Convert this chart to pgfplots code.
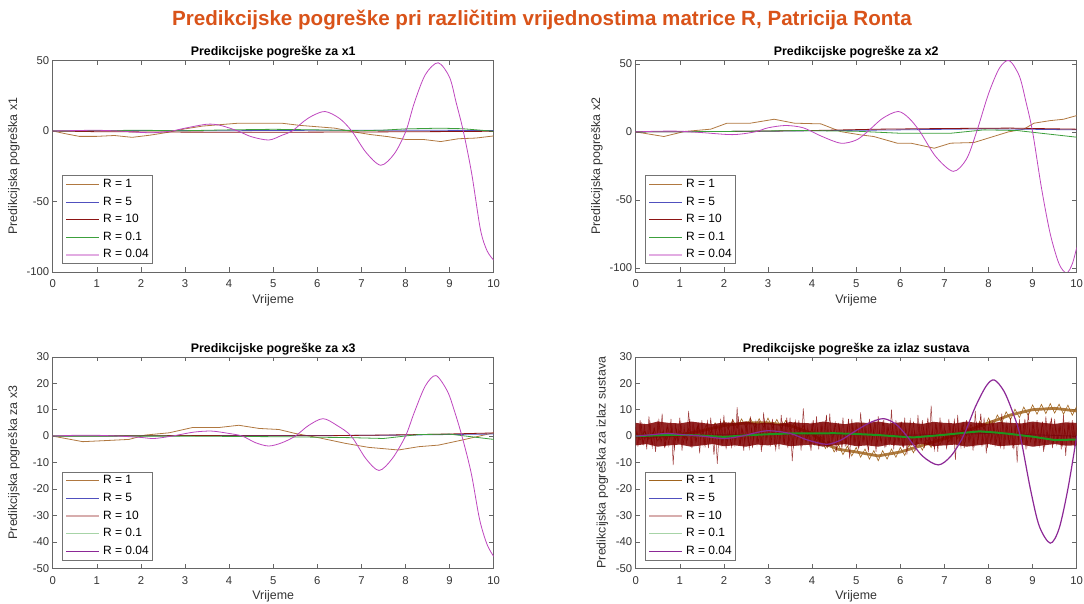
\documentclass[border=0pt]{standalone}
\usepackage{pgfplots}
\pgfplotsset{compat=1.18}
\usepackage{fontspec}
\setmainfont{Liberation Sans}

\definecolor{cbrown}{RGB}{176,120,64}
\definecolor{cblue}{RGB}{80,80,190}
\definecolor{cred}{RGB}{140,20,20}
\definecolor{cgreen}{RGB}{60,160,60}
\definecolor{cpurple}{RGB}{190,70,190}
\definecolor{cbrown4}{RGB}{160,100,30}
\definecolor{cred4}{RGB}{128,0,0}
\definecolor{cgreen4}{RGB}{30,150,30}
\definecolor{cpurple4}{RGB}{140,40,150}
\definecolor{ctitle}{RGB}{217,83,25}

\pgfplotsset{
  panel/.style={
    scale only axis, width=441pt, height=211.5pt,
    xmin=0, xmax=10, xtick={0,...,10},
    axis line style={draw=black!60, line width=0.5pt},
    tick style={draw=black!60, line width=0.5pt},
    major tick length=4.5pt,
    tick align=inside, xtick pos=both, ytick pos=both,
    xticklabel pos=lower, yticklabel pos=left,
    ticklabel style={font=\fontsize{11.3}{13}\selectfont, text=black!80},
    xticklabel style={yshift=-4.5pt},
    /pgf/number format/assume math mode=true,
    xlabel={Vrijeme},
    every axis x label/.style={at={(axis description cs:0.5,-0.133)}, anchor=center,
      font=\fontsize{12.4}{14}\selectfont, text=black!80},
    title style={font=\bfseries\fontsize{12.4}{14}\selectfont, yshift=-7.5pt},
    legend style={at={(0,0)}, anchor=south west, xshift=9pt, yshift=8pt,
      draw=black!55, line width=0.5pt, font=\fontsize{12}{14}\selectfont,
      inner xsep=3.5pt, inner ysep=2.8pt, row sep=5.6pt,
      nodes={inner sep=0pt, text height=9pt, text depth=3pt},
      /tikz/every odd column/.append style={column sep=3pt},
      cells={anchor=west}},
    legend image code/.code={\draw[#1] (0pt,0pt) -- (33pt,0pt);},
    every axis plot/.append style={line width=0.8pt},
  },
  ylab/.style={every axis y label/.style={at={(axis description cs:#1,0.5)}, rotate=90, anchor=center,
      font=\fontsize{12.4}{14}\selectfont, text=black!80}},
}

\begin{document}
\begin{tikzpicture}
\path[use as bounding box] (0,0) rectangle (1084pt,604pt);
\node[font=\bfseries\fontsize{20.6}{24}\selectfont, text=ctitle] at (542pt,584pt)
  {Predikcijske pogreške pri različitim vrijednostima matrice R, Patricija Ronta};

% x1
\begin{axis}[panel, at={(52.7pt,332pt)}, anchor=south west,
  ymin=-100, ymax=50, ytick={-100,-50,0,50}, ylab=-0.088,
  title={Predikcijske pogreške za x1}, ylabel={Predikcijska pogreška x1}]
\addplot[cbrown, forget plot] coordinates {(0,0)(0.3,-2)(0.6,-3.8)(1.0,-3.8)(1.4,-3.2)(1.8,-4.5)(2.2,-3)(2.6,-1)(3.0,1.5)(3.4,3.5)(3.8,4.5)(4.2,5.5)(4.7,5.5)(5.2,5.5)(5.6,4)(6.0,3)(6.4,2)(6.8,-0.5)(7.2,-2.5)(7.6,-4)(8.0,-6)(8.4,-6)(8.8,-7.5)(9.2,-5.5)(9.6,-5)(10,-3.5)};
\addplot[cblue, forget plot] coordinates {(0,0)(2,0.3)(4,0.2)(6,0.5)(8,0.6)(10,0.3)};
\addplot[cred, forget plot] coordinates {(0,0)(1,-0.5)(3,-0.8)(5,-0.9)(7,-0.7)(9,-0.4)(10,-0.2)};
\addplot[cgreen, forget plot] coordinates {(0,0)(1,0.3)(2,0.5)(3,0.2)(4,0.8)(5,1.2)(6,0.8)(7,0.2)(7.5,0.6)(8,1.5)(8.8,2)(9.3,1.6)(10,-0.2)};
\addplot[cpurple, smooth, forget plot] coordinates {(0,0)(0.5,0.3)(1.0,0.5)(1.5,0)(2.0,-1)(2.3,-1.2)(2.7,0)(3.0,2)(3.5,4.8)(3.8,4)(4.2,0)(4.5,-4)(4.9,-6.4)(5.2,-3)(5.43,0)(5.7,7)(5.9,11)(6.18,13.8)(6.5,9)(6.78,0)(7.1,-15)(7.44,-24.3)(7.75,-16)(8.01,0)(8.2,20)(8.45,40)(8.74,48.4)(9.0,38)(9.15,20)(9.31,0)(9.5,-30)(9.7,-70)(9.85,-85)(10,-91.6)};
\addlegendimage{cbrown}
\addlegendimage{cblue}
\addlegendimage{cred}
\addlegendimage{cgreen}
\addlegendimage{cpurple!45, line width=1.6pt}
\legend{R = 1, R = 5, R = 10, R = 0.1, R = 0.04}
\end{axis}

% x2
\begin{axis}[panel, at={(635.7pt,332pt)}, anchor=south west,
  ymin=-103, ymax=52.5, ytick={-100,-50,0,50}, ylab=-0.088,
  title={Predikcijske pogreške za x2}, ylabel={Predikcijska pogreška x2}]
\addplot[cbrown, forget plot] coordinates {(0,0)(0.64,-3.4)(1.1,0.3)(1.7,2)(2.07,6.4)(2.6,6.4)(3.14,9.3)(3.6,6.4)(4.2,5.9)(4.65,0.2)(5.1,-2.2)(5.4,-3.4)(5.93,-8.3)(6.24,-8.3)(6.6,-10.8)(6.77,-12)(7.14,-8.3)(7.67,-7.8)(7.98,-4.7)(8.45,0)(8.8,2)(9.03,6.4)(9.4,8.3)(9.7,9.3)(10,12)};
\addplot[cblue, forget plot] coordinates {(0,0)(3,0.5)(6,1.5)(8,2.3)(10,1.5)};
\addplot[cred, forget plot] coordinates {(0,0)(2,0.3)(4,1)(5.5,2)(7,2.5)(8.5,2.8)(10,2)};
\addplot[cgreen, forget plot] coordinates {(0,0)(2,0.3)(3.74,1)(5,0.5)(6,-1)(7.14,-1)(7.9,1.5)(8.65,1)(9.2,-1)(10,-3.9)};
\addplot[cpurple, smooth, forget plot] coordinates {(0,0)(0.5,0.5)(1,0.5)(1.5,-0.5)(2.2,-2)(2.7,0)(3.0,3)(3.4,4.7)(3.8,3)(4.2,-3)(4.65,-8.3)(5.0,-6)(5.25,0)(5.6,10)(5.95,15)(6.2,10)(6.45,0)(6.8,-18)(7.2,-29)(7.5,-20)(7.73,0)(8.0,28)(8.25,47)(8.47,52.4)(8.7,41)(8.85,22)(9.0,0)(9.2,-41)(9.4,-75)(9.6,-97)(9.77,-103.7)(9.9,-97)(10,-85)};
\addlegendimage{cbrown}
\addlegendimage{cblue}
\addlegendimage{cred}
\addlegendimage{cgreen}
\addlegendimage{cpurple!45, line width=1.6pt}
\legend{R = 1, R = 5, R = 10, R = 0.1, R = 0.04}
\end{axis}

% x3
\begin{axis}[panel, at={(52.7pt,35.7pt)}, anchor=south west,
  ymin=-50, ymax=30, ytick={-50,-40,...,30}, ylab=-0.088,
  title={Predikcijske pogreške za x3}, ylabel={Predikcijska pogreška za x3}]
\addplot[cbrown, forget plot] coordinates {(0,0)(0.68,-2.1)(1.13,-1.75)(1.73,-1.25)(2.1,0.4)(2.64,1.25)(3.17,3.25)(3.77,3.25)(4.22,4.1)(4.68,2.9)(5.13,2.5)(5.5,1)(6.03,-0.6)(6.64,-2.75)(7.16,-4.25)(7.84,-5.25)(8.3,-4)(8.75,-3.4)(9.28,-1.5)(10,1.25)};
\addplot[cblue, forget plot] coordinates {(0,0)(3,0.2)(6,0.2)(8,0.4)(10,0.8)};
\addplot[cred, forget plot] coordinates {(0,0)(3,0.2)(6,0.1)(8,0.5)(9,0.8)(10,1.2)};
\addplot[cgreen, forget plot] coordinates {(0,0)(3,0)(5.3,-0.25)(6.8,-0.6)(7.5,-0.9)(8.3,0.6)(9,0.75)(10,-1.25)};
\addplot[cpurple, smooth, forget plot] coordinates {(0,0)(0.5,0.3)(1.0,0.3)(1.5,0)(2.0,-0.5)(2.3,-0.9)(2.7,0)(3.2,1.5)(3.6,1.9)(4.0,1)(4.3,0)(4.6,-2.5)(4.9,-3.75)(5.2,-2.5)(5.5,0)(5.8,4)(6.13,6.6)(6.45,4)(6.77,0)(7.1,-8.5)(7.4,-13)(7.7,-8.5)(8.0,0)(8.2,9)(8.45,19)(8.69,22.9)(8.95,17)(9.1,10)(9.28,0)(9.49,-14)(9.68,-31.5)(9.85,-41)(10,-45.5)};
\addlegendimage{cbrown}
\addlegendimage{cblue}
\addlegendimage{cred!35, line width=1.6pt}
\addlegendimage{cgreen!45, line width=1.6pt}
\addlegendimage{cpurple4}
\legend{R = 1, R = 5, R = 10, R = 0.1, R = 0.04}
\end{axis}

% izlaz sustava
\begin{axis}[panel, at={(635.7pt,35.7pt)}, anchor=south west,
  ymin=-50, ymax=30, ytick={-50,-40,...,30}, ylab=-0.0757,
  title={Predikcijske pogreške za izlaz sustava}, ylabel={Predikcijska pogreška za izlaz sustava}]
% R = 1: trend drawn thick, then its noise
\addplot[cbrown4, line width=2.8pt, opacity=0.85, forget plot] coordinates {(0,0)(0.5,0)(1,0.5)(1.5,2)(2,4)(2.5,5)(3,5)(3.5,4)(4,1)(4.3,-3)(4.6,-5)(5,-6)(5.5,-7.5)(6,-6)(6.5,-3.5)(7,-1)(7.5,2)(8,5)(8.5,8)(9,10)(9.5,10.5)(10,9.5)};
\addplot[cbrown4, line width=0.6pt, forget plot] table[x expr=\coordindex*0.1, y index=0, header=false, row sep=\\] {
1.5\\ -1.5\\ 1.8\\ -1.2\\ 1.5\\ -1.8\\ 1.6\\ -1.3\\ 2\\ -1.4\\
2\\ -0.8\\ 2.8\\ -0.3\\ 3.5\\ 0.3\\ 4.2\\ 1.2\\ 5\\ 2\\
5.8\\ 2.6\\ 6.2\\ 3\\ 6.5\\ 3.3\\ 6.8\\ 3.2\\ 6.6\\ 3.4\\
6.8\\ 3.1\\ 6.3\\ 2.8\\ 5.9\\ 2.3\\ 5\\ 1.1\\ 4\\ -0.2\\
2.8\\ -2\\ 0\\ -4.7\\ -2\\ -6\\ -3.3\\ -7\\ -3.8\\ -7.5\\
-4.3\\ -8\\ -4.9\\ -8.7\\ -5.5\\ -9.3\\ -5.5\\ -8.7\\ -4.9\\ -8\\
-4.3\\ -7.3\\ -3.3\\ -6.3\\ -2.3\\ -5.3\\ -1.3\\ -4.3\\ -0.3\\ -3.3\\
0.7\\ -2.2\\ 2\\ -1\\ 3.2\\ 0.2\\ 4.4\\ 1.4\\ 5.6\\ 2.6\\
6.8\\ 3.8\\ 8\\ 5\\ 9.2\\ 6.2\\ 10.2\\ 7\\ 11\\ 7.8\\
11.8\\ 8.3\\ 12\\ 8.5\\ 12.3\\ 8.7\\ 12.1\\ 8.3\\ 11.7\\ 7.9\\
11.2\\
};
\addplot[cblue, forget plot] coordinates {(0,0)(2,0.5)(4,0.8)(6,0.3)(8,1)(10,0)};
% R = 10: dense core of the noise band, then the spikes
\addplot[fill=cred4, draw=none, fill opacity=0.85, forget plot] coordinates {
(0,5)(0.25,4.5)(0.5,5.5)(0.75,5)(1,4.8)(1.25,5.5)(1.5,5)(1.75,4.5)(2,5.2)(2.25,5)(2.5,5.5)(2.75,4.8)(3,5)(3.25,4.6)(3.5,5.3)(3.75,5)(4,4.8)(4.25,5.5)(4.5,5)(4.75,4.5)(5,5.2)(5.25,5)(5.5,5.5)(5.75,4.8)(6,5.2)(6.25,5)(6.5,4.6)(6.75,5.4)(7,5)(7.25,4.8)(7.5,5.5)(7.75,5)(8,4.7)(8.25,5.3)(8.5,5)(8.75,4.8)(9,5.5)(9.25,5)(9.5,4.6)(9.75,5.2)(10,5)
(10,-3.5)(9.75,-3.6)(9.5,-3)(9.25,-3.5)(9,-4)(8.75,-3.2)(8.5,-3.5)(8.25,-3.8)(8,-3)(7.75,-3.5)(7.5,-4)(7.25,-3.2)(7,-3.5)(6.75,-3.8)(6.5,-3)(6.25,-3.5)(6,-3.6)(5.75,-3.2)(5.5,-4)(5.25,-3.5)(5,-3.8)(4.75,-3)(4.5,-3.5)(4.25,-4)(4,-3.2)(3.75,-3.5)(3.5,-3.8)(3.25,-3)(3,-3.5)(2.75,-3.2)(2.5,-4)(2.25,-3.5)(2,-3.8)(1.75,-3)(1.5,-3.5)(1.25,-4)(1,-3.2)(0.75,-3.5)(0.5,-4)(0.25,-3)(0,-3.5)};
\addplot[cred4, line width=0.5pt, opacity=0.75, forget plot] table[x expr=\coordindex*0.05, y index=0, header=false, row sep=\\] {
3.5\\ -4\\ 6\\ -2.5\\ 4\\ -5\\ 7.5\\ -3\\ 2.5\\ -6\\
5\\ -1.5\\ 8.5\\ -4.5\\ 3\\ -3.5\\ 6.5\\ -11\\ 4.5\\ -2\\
7\\ -5.5\\ 3.5\\ -3\\ 9.5\\ -4\\ 5.5\\ -2.5\\ 4\\ -6.5\\
6\\ -3.5\\ 2.5\\ -4.5\\ 7\\ -1.5\\ 5\\ -10.5\\ 3.5\\ -3\\
8\\ -5\\ 4.5\\ -2\\ 6.5\\ -4\\ 11\\ -3.5\\ 3\\ -5.5\\
5.5\\ -2.5\\ 7.5\\ -4.5\\ 4\\ -3\\ 6\\ -6\\ 9\\ -2\\
4.5\\ -4\\ 6.5\\ -3\\ 3.5\\ -5\\ 8\\ -2.5\\ 5\\ -4.5\\
7\\ -9.5\\ 4\\ -3\\ 6\\ -5.5\\ 10.5\\ -2\\ 3.5\\ -4\\
5.5\\ -3.5\\ 7.5\\ -5\\ 4.5\\ -2.5\\ 6\\ -4.5\\ 8.5\\ -3\\
3.5\\ -6\\ 5\\ -2\\ 7\\ -4\\ 4\\ -8.5\\ 6.5\\ -3.5\\
5\\ -5\\ 9\\ -2.5\\ 4\\ -4\\ 6.5\\ -3\\ 3\\ -6\\
7.5\\ -2\\ 5.5\\ -4.5\\ 4\\ -3.5\\ 10\\ -5\\ 6\\ -2.5\\
4.5\\ -4\\ 7\\ -7\\ 3.5\\ -3\\ 5.5\\ -5.5\\ 8\\ -2\\
6\\ -4.5\\ 4\\ -3\\ 11.5\\ -4\\ 5\\ -6\\ 7\\ -2.5\\
3.5\\ -5\\ 6.5\\ -3\\ 4.5\\ -9\\ 8\\ -3.5\\ 5\\ -4.5\\
6\\ -2\\ 4\\ -5.5\\ 9.5\\ -3\\ 5.5\\ -4\\ 7\\ -6.5\\
3.5\\ -2.5\\ 6\\ -4\\ 4.5\\ -3.5\\ 8.5\\ -5\\ 5\\ -2\\
7\\ -4.5\\ 4\\ -10\\ 6.5\\ -3\\ 5\\ -5\\ 9\\ -2.5\\
4.5\\ -4\\ 6\\ -3.5\\ 3.5\\ -6\\ 7.5\\ -2.5\\ 5.5\\ -4.5\\
6.5\\ -3\\ 4\\ -5\\ 8\\ -7.5\\ 5\\ -2\\ 6\\ -4\\
4\\
};
\addplot[cred4, line width=0.5pt, opacity=0.85, forget plot] table[x expr=\coordindex*0.05+0.025, y index=0, header=false, row sep=\\] {
2\\ -1.5\\ 4.5\\ -3\\ 1.5\\ -2\\ 5\\ -4\\ 3\\ -1\\
6\\ -2.5\\ 2\\ -3.5\\ 4\\ -1\\ 3.5\\ -5\\ 2.5\\ -2\\
5\\ -3\\ 1\\ -1.5\\ 6.5\\ -4.5\\ 3\\ -2\\ 4.5\\ -1\\
2.5\\ -3.5\\ 5.5\\ -2\\ 3\\ -7\\ 4\\ -1.5\\ 6\\ -3\\
3.5\\ -2.5\\ 2\\ -4\\ 5\\ -1\\ 7.5\\ -3\\ 2.5\\ -2\\
4\\ -4.5\\ 3\\ -1.5\\ 5.5\\ -2.5\\ 2\\ -3.5\\ 6\\ -1\\
3\\ -2\\ 4.5\\ -5\\ 2\\ -1.5\\ 5\\ -3\\ 7\\ -2.5\\
2.5\\ -4\\ 5.5\\ -1\\ 3.5\\ -3\\ 4\\ -2\\ 2\\ -5.5\\
6\\ -1.5\\ 3\\ -3\\ 4.5\\ -2.5\\ 8\\ -4\\ 2.5\\ -1\\
5\\ -2\\ 3.5\\ -4.5\\ 2\\ -3\\ 6.5\\ -1.5\\ 4\\ -2.5\\
3\\ -3.5\\ 5\\ -2\\ 2.5\\ -6\\ 4.5\\ -1\\ 5.5\\ -3\\
2\\ -2.5\\ 6\\ -4\\ 3.5\\ -1.5\\ 4\\ -3\\ 2.5\\ -2\\
5.5\\ -4.5\\ 3\\ -1\\ 6\\ -2.5\\ 2\\ -3.5\\ 4.5\\ -2\\
3.5\\ -1.5\\ 7\\ -3\\ 2.5\\ -5\\ 4\\ -2\\ 5\\ -1\\
2\\ -3\\ 4.5\\ -2.5\\ 6\\ -1.5\\ 3\\ -4\\ 5.5\\ -2\\
4\\ -2\\ 2.5\\ -3.5\\ 5\\ -1\\ 8.5\\ -3\\ 3\\ -4.5\\
6\\ -1.5\\ 3.5\\ -2.5\\ 2\\ -4\\ 5.5\\ -2\\ 4\\ -3\\
3\\ -5\\ 5\\ -1.5\\ 4\\ -2.5\\ 6.5\\ -3.5\\ 2.5\\ -1\\
4.5\\ -3\\ 3\\ -2\\ 5.5\\ -4\\ 2\\ -1.5\\ 7\\ -2.5\\
3.5\\ -2\\ 4\\ -3.5\\ 2.5\\ -1\\ 5\\ -3\\ 4\\ -2\\
};
\addplot[cgreen4, line width=2pt, forget plot] coordinates {(0,0)(0.5,0.3)(1,0.5)(1.5,0.2)(2,-0.3)(2.5,0.3)(3,0.7)(3.5,1)(4,1)(4.5,1.1)(5,0.8)(5.5,0.4)(6,-0.2)(6.3,-0.5)(7,0.5)(7.6,1.5)(7.8,1.8)(8.2,1.3)(8.5,0.8)(9,-0.2)(9.5,-1.5)(10,-1.3)};
\addplot[cpurple4, line width=1.2pt, smooth, forget plot] coordinates {(0,0)(0.35,0.5)(0.7,1)(1.1,0.5)(1.5,0)(2.0,-0.9)(2.4,0)(2.97,2)(3.5,1)(3.9,-1.5)(4.33,-3.1)(4.65,-1.5)(4.94,1.5)(5.3,5)(5.62,6.6)(5.9,4.5)(6.15,0)(6.5,-7.5)(6.86,-10.9)(7.15,-7.5)(7.43,0)(7.7,11)(7.95,19)(8.13,21.25)(8.35,17)(8.55,9)(8.72,0)(8.95,-20)(9.15,-34)(9.4,-40.5)(9.6,-35)(9.8,-20)(10,0)};
\addlegendimage{cbrown4}
\addlegendimage{cblue}
\addlegendimage{cred!35, line width=1.6pt}
\addlegendimage{cgreen!45, line width=1.6pt}
\addlegendimage{cpurple4}
\legend{R = 1, R = 5, R = 10, R = 0.1, R = 0.04}
\end{axis}
\end{tikzpicture}
\end{document}
